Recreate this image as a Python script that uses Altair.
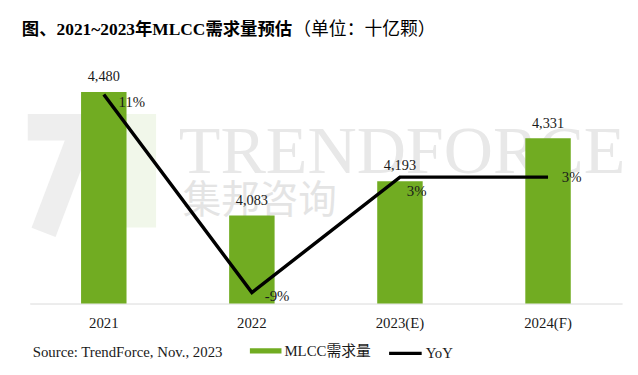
import altair as alt
import pandas as pd

years = ["2021", "2022", "2023(E)", "2024(F)"]
demand = [4480, 4083, 4193, 4331]
demand_labels = ["4,480", "4,083", "4,193", "4,331"]
yoy = [11.0, -8.9, 2.7, 2.7]
yoy_labels = ["11%", "-9%", "3%", "3%"]
series_bar = ["MLCC需求量"]
series_line = ["YoY"]

df = pd.DataFrame({
    "year": years,
    "demand": demand,
    "demand_label": demand_labels,
    "yoy": yoy,
    "yoy_label": yoy_labels,
    "bar_series": series_bar[0],
    "line_series": series_line[0],
})

W, H = 600, 252
SERIF = "Liberation Serif"
CJK = "Liberation Serif, Noto Sans CJK SC"
GREEN = "#71ac22"
TXT = "#1a1a1a"

xenc = alt.X(
    "year:N", sort=years,
    scale=alt.Scale(paddingInner=0.693, paddingOuter=0.3467),
    axis=alt.Axis(title=None, labelAngle=0, ticks=False, domainColor="#d9d9d9",
                  labelFont=SERIF, labelFontSize=15, labelColor=TXT, labelPadding=12),
)
ybar = alt.Scale(domain=[3800, 4600], zero=False, nice=False, clamp=True)
yline = alt.Scale(domain=[-10, 15], zero=False, nice=False)

bar_legend = alt.Legend(
    title=None, orient="none", legendX=223, legendY=284,
    symbolType="M-1,-0.16H1V0.16H-1Z", symbolSize=1024, symbolStrokeWidth=0,
    labelFont=CJK, labelFontSize=15, labelColor=TXT, labelOffset=3,
)
line_legend = alt.Legend(
    title=None, orient="none", legendX=362, legendY=284,
    symbolType="stroke", symbolSize=1089, symbolStrokeWidth=3.5,
    labelFont=CJK, labelFontSize=15, labelColor=TXT, labelOffset=2,
)

one = pd.DataFrame({"k": [0]})

# faint logo watermark
logo_bar = alt.Chart(one).mark_rect(color="#eeeeee").encode(
    x=alt.value(-2), x2=alt.value(70), y=alt.value(60), y2=alt.value(87))
logo_diag = alt.Chart(one).mark_rule(color="#eeeeee", strokeWidth=26).encode(
    x=alt.value(52), x2=alt.value(14), y=alt.value(80), y2=alt.value(180))
logo_green = alt.Chart(one).mark_rect(color="#f1f7ea").encode(
    x=alt.value(72), x2=alt.value(128), y=alt.value(60), y2=alt.value(175))

wm1 = alt.Chart(one).mark_text(text="TRENDFORCE", font=SERIF, fontSize=69, color="#e8e8e8",
                               align="left", baseline="alphabetic").encode(
    x=alt.value(151), y=alt.value(120))
wm2 = alt.Chart(one).mark_text(text="集邦咨询", font="Noto Sans CJK SC", fontSize=39, color="#e4e4e4",
                               align="left", baseline="middle").encode(
    x=alt.value(155), y=alt.value(148))

bars = alt.Chart(df).mark_bar().encode(
    x=xenc,
    y=alt.Y("demand:Q", scale=ybar, axis=None),
    color=alt.Color("bar_series:N", scale=alt.Scale(domain=series_bar, range=[GREEN]), legend=bar_legend),
)
bar_text = alt.Chart(df).mark_text(dy=-11, baseline="alphabetic", font=SERIF, fontSize=14.5, color=TXT).encode(
    x=xenc, y=alt.Y("demand:Q", scale=ybar, axis=None), text="demand_label:N")

line = alt.Chart(df).mark_line(strokeWidth=3.5).encode(
    x=xenc,
    y=alt.Y("yoy:Q", scale=yline, axis=None),
    stroke=alt.Stroke("line_series:N", scale=alt.Scale(domain=series_line, range=["#000000"]), legend=line_legend),
)

offsets = {"2021": (15, 8), "2022": (13, 4), "2023(E)": (7, 14), "2024(F)": (14, 0)}
yoy_text_layers = []
for yr, (dx, dy) in offsets.items():
    yoy_text_layers.append(
        alt.Chart(df).transform_filter(alt.datum.year == yr).mark_text(
            dx=dx, dy=dy, align="left", baseline="middle", font=SERIF, fontSize=15, color=TXT
        ).encode(x=xenc, y=alt.Y("yoy:Q", scale=yline, axis=None), text="yoy_label:N")
    )

title1 = alt.Chart(one).mark_text(text="图、2021~2023年MLCC需求量预估", font=CJK, fontSize=17.6,
                                  fontWeight="bold", align="left", baseline="middle", color="#000").encode(
    x=alt.value(-8), y=alt.value(-25))
title2 = alt.Chart(one).mark_text(text="（单位：十亿颗）", font=CJK, fontSize=18,
                                  align="left", baseline="middle", color="#000").encode(
    x=alt.value(267), y=alt.value(-25))
source = alt.Chart(one).mark_text(text="Source: TrendForce, Nov., 2023", font=SERIF, fontSize=15,
                                  align="left", baseline="middle", color=TXT).encode(
    x=alt.value(3), y=alt.value(301))

chart = alt.layer(
    logo_bar, logo_diag, logo_green, wm1, wm2, bars, bar_text, line, *yoy_text_layers, title1, title2, source
).resolve_scale(y="independent").properties(
    width=W, height=H,
    autosize=alt.AutoSizeParams(type="none"),
    padding={"left": 22, "top": 45, "right": 8, "bottom": 62},
).configure_view(stroke=None)

chart.save("out.html", embed_options={"renderer": "svg", "actions": False})
